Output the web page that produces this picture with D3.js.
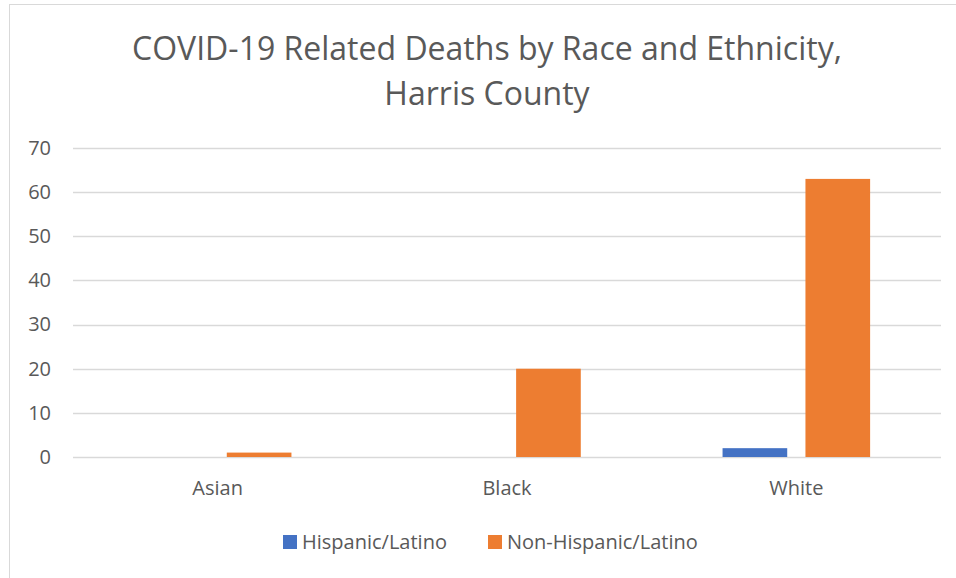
<!DOCTYPE html>
<html>
<head>
<meta charset="utf-8">
<script src="https://cdn.jsdelivr.net/npm/d3@7"></script>
<style>
  body { margin: 0; background: #fff; }
  text { font-family: "Open Sans", Lato, sans-serif; fill: #595959; }
</style>
</head>
<body>
<div id="chart"></div>
<script>
// Data
const categories = ["Asian", "Black", "White"]
const seriesNames = ["Hispanic/Latino", "Non-Hispanic/Latino"]
const hispanic = [0, 0, 2]
const nonHispanic = [1, 20, 63]
const yTicks = [0, 10, 20, 30, 40, 50, 60, 70]
const titleLines = ["COVID-19 Related Deaths by Race and Ethnicity,", "Harris County"]

const colors = ["#4472c4", "#ed7d31"]
const W = 956, H = 578
const margin = { top: 148, right: 15, bottom: 121, left: 73 }
const width = W - margin.left - margin.right
const height = H - margin.top - margin.bottom

const svg = d3.select("#chart").append("svg").attr("width", W).attr("height", H)

// chart border
svg.append("rect")
  .attr("x", 9.5).attr("y", 4.5)
  .attr("width", W).attr("height", H)
  .style("fill", "none").style("stroke", "#d9d9d9").style("stroke-width", 1)

// title
svg.append("g").selectAll("text")
  .data(titleLines)
  .enter().append("text")
  .attr("x", 487)
  .attr("y", (d, i) => 60 + i * 45)
  .attr("text-anchor", "middle")
  .style("font-size", "32px")
  .text(d => d)

const g = svg.append("g").attr("transform", `translate(${margin.left},${margin.top})`)

const x = d3.scaleBand().domain(categories).range([0, width]).paddingInner(0.49).paddingOuter(0.245)
const xs = d3.scaleBand().domain(seriesNames).range([0, x.bandwidth()]).paddingInner(0.22)
const y = d3.scaleLinear().domain([0, 70]).range([height, 0])

// gridlines
g.selectAll(".grid")
  .data(yTicks)
  .enter().append("line")
  .attr("x1", 0).attr("x2", width)
  .attr("y1", d => Math.round(y(d)) + 0.5).attr("y2", d => Math.round(y(d)) + 0.5)
  .style("stroke", "#d9d9d9").style("stroke-width", 1.3)

// y labels
const yAxis = d3.axisLeft(y).tickValues(yTicks).tickSize(0).tickPadding(22)
g.append("g").call(yAxis)
  .call(a => a.select(".domain").remove())
  .selectAll("text").style("font-size", "20px").style("fill", "#595959")

// x labels
const xAxis = d3.axisBottom(d3.scaleBand().domain(categories).range([0, width])).tickSize(0).tickPadding(24)
g.append("g").attr("transform", `translate(0,${height})`).call(xAxis)
  .call(a => a.select(".domain").remove())
  .selectAll("text").style("font-size", "20px").style("fill", "#595959")

// bars
const rows = categories.map((c, i) => ({ cat: c, values: [hispanic[i], nonHispanic[i]] }))
const groups = g.selectAll(".cat").data(rows).enter().append("g")
  .attr("transform", d => `translate(${x(d.cat)},0)`)
groups.selectAll("rect")
  .data(d => d.values.map((v, j) => ({ name: seriesNames[j], v, j })))
  .enter().append("rect")
  .attr("x", d => xs(d.name))
  .attr("width", xs.bandwidth())
  .attr("y", d => y(d.v))
  .attr("height", d => height - y(d.v))
  .style("fill", d => colors[d.j])

// legend
const legendX = [283, 488]
const legend = svg.append("g").selectAll("g")
  .data(seriesNames)
  .enter().append("g")
  .attr("transform", (d, i) => `translate(${legendX[i]},535)`)
legend.append("rect").attr("width", 14).attr("height", 14).style("fill", (d, i) => colors[i])
legend.append("text").attr("x", 19).attr("y", 14).style("font-size", "20px").text(d => d)
</script>
</body>
</html>
